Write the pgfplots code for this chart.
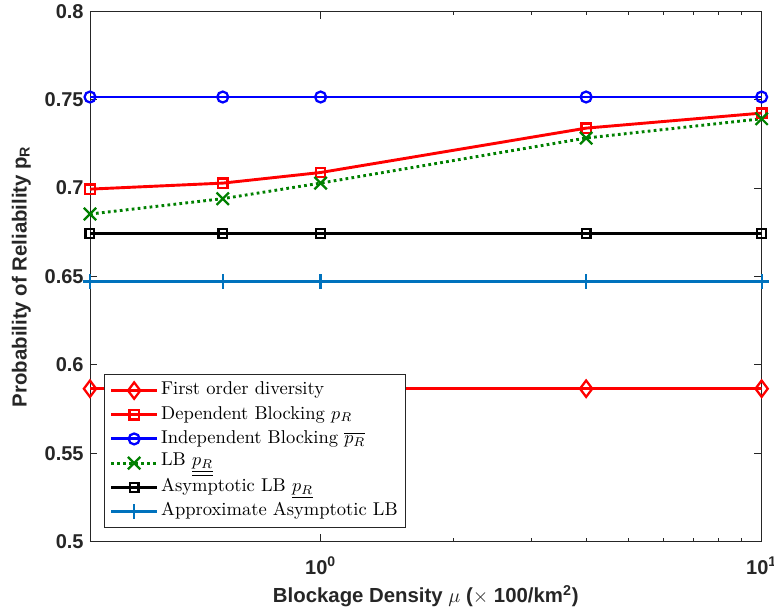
\documentclass[border=0pt]{standalone}
\usepackage{pgfplots}
\pgfplotsset{compat=1.18}
\usepackage{fontspec}
\newfontfamily\arialfont{Liberation Sans}
\definecolor{mblue}{RGB}{0,114,189}
\definecolor{mgreen}{RGB}{0,128,0}
\definecolor{axgray}{RGB}{38,38,38}

\begin{document}
\begin{tikzpicture}[x=1pt,y=1pt]
\begin{axis}[
  at={(0,0)}, anchor=south west,
  scale only axis, width=369.4pt, height=291.7pt,
  xmode=log, xmin=0.3, xmax=10, ymin=0.5, ymax=0.8,
  xtick={1,10}, xticklabels={10\textsuperscript{0},10\textsuperscript{1}},
  ytick={0.5,0.55,0.6,0.65,0.7,0.75,0.8},
  yticklabels={0.5,0.55,0.6,0.65,0.7,0.75,0.8},
  tick align=inside,
  major tick length=4pt, minor tick length=2.2pt,
  axis line style={axgray, line width=0.5pt},
  every tick/.style={axgray, line width=0.5pt},
  ticklabel style={font=\fontsize{11}{13}\arialfont\bfseries, text=axgray},
  xticklabel style={yshift=-5pt},
  xlabel={Blockage Density $\mu$ ($\times$ 100/km\textsuperscript{2})},
  ylabel={Probability of Reliability p\textsubscript{R}},
  label style={font=\fontsize{11.2}{13}\arialfont\bfseries, text=axgray},
  xlabel style={at={(axis description cs:0.5,-0.115)}, anchor=base},
  ylabel style={at={(axis description cs:-0.0942,0.5)}, anchor=base},
  legend style={at={(0.0209,0.0265)}, anchor=south west,
    font=\fontsize{10.2}{12}\selectfont, draw=axgray, line width=0.5pt,
    inner xsep=3pt, inner ysep=3pt, row sep=2.1pt,
    nodes={inner xsep=1.5pt, inner ysep=1pt, text height=7pt, text depth=2.2pt}},
  legend cell align=left,
  legend image code/.code={%
    \draw[mark repeat=2, mark phase=2] plot coordinates {(0cm,0cm) (0.44cm,0cm) (0.88cm,0cm)};},
  every axis plot/.append style={line width=1.6pt, mark options={solid, line width=1.25pt}},
]
% first order diversity
\addplot[red, mark=diamond, mark size=4.5pt] coordinates {
  (0.3,0.5865) (0.6,0.5865) (1,0.5865) (4,0.5865) (10,0.5865)};
\addlegendentry{First order diversity}
% dependent blocking
\addplot[red, mark=square, mark size=2.6pt] coordinates {
  (0.3,0.6994) (0.6,0.7028) (1,0.7088) (4,0.7339) (10,0.7424)};
\addlegendentry{Dependent Blocking $p_R$}
% independent blocking
\addplot[blue, mark=o, mark size=3pt] coordinates {
  (0.3,0.7515) (0.6,0.7515) (1,0.7515) (4,0.7515) (10,0.7515)};
\addlegendentry{Independent Blocking $\overline{p_R}$}
% lower bound
\addplot[mgreen, dash pattern=on 1.5pt off 1.8pt, mark=x, mark size=4.8pt] coordinates {
  (0.3,0.6853) (0.6,0.6940) (1,0.7028) (4,0.7283) (10,0.7392)};
\addlegendentry{\raisebox{1pt}{LB $\underline{\underline{p_R}}$}}
% asymptotic lower bound
\addplot[black, mark=square, mark size=2.4pt] coordinates {
  (0.3,0.6742) (0.6,0.6742) (1,0.6742) (4,0.6742) (10,0.6742)};
\addlegendentry{Asymptotic LB $\underline{p_R}$}
% approximate asymptotic lower bound
\addplot[mblue, mark=+, mark size=4pt] coordinates {
  (0.3,0.6472) (0.6,0.6472) (1,0.6472) (4,0.6472) (10,0.6472)};
\addlegendentry{Approximate Asymptotic LB}
\end{axis}
\pgfresetboundingbox
\path[use as bounding box] (-49.5,-39.6) rectangle (376.2,297.9);
\end{tikzpicture}
\end{document}
